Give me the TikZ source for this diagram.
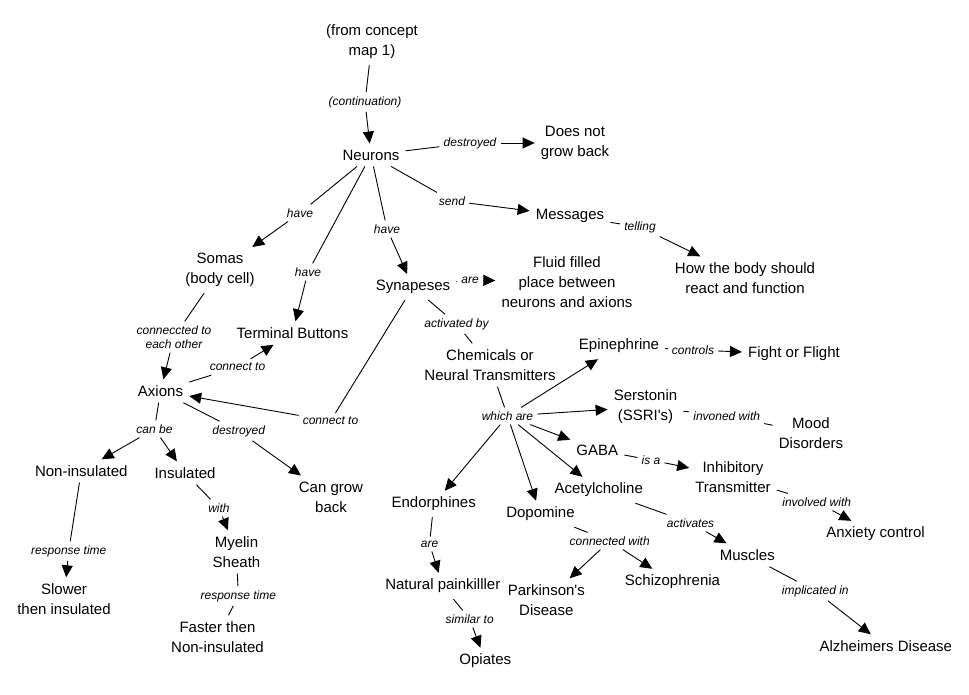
\documentclass[tikz,border=0pt]{standalone}
\usepackage{fontspec}
\setmainfont{Liberation Sans}
\usetikzlibrary{arrows.meta}
\tikzset{
  concept/.style={font=\fontsize{15}{20}\selectfont, align=center, inner sep=6pt},
  lbl/.style={font=\fontsize{12}{14}\selectfont\itshape, align=center, inner sep=4pt},
  ln/.style={line width=0.9pt},
  ar/.style={line width=0.9pt, -{Triangle[length=12pt,width=11pt]}},
}
\newcommand{\cmlink}[3]{\draw[ln] (#1) -- (#2); \draw[ar] (#2) -- (#3);}
\begin{document}
\begin{tikzpicture}[x=1pt,y=-1pt]
\useasboundingbox[fill=white] (0,0) rectangle (969,694);
% concepts
\node[concept] (c1) at (372,42) {(from concept\\map 1)};
\node[concept] (neur) at (371,155) {Neurons};
\node[concept] (dngb) at (575,143) {Does not\\grow back};
\node[concept] (somas) at (220,270) {Somas\\(body cell)};
\node[concept] (tb) at (292.5,333) {Terminal Buttons};
\node[concept] (syn) at (413,287) {Synapeses};
\node[concept] (msg) at (570,216) {Messages};
\node[concept] (how) at (745,278) {How the body should\\react and function};
\node[concept] (fluid) at (567,282) {Fluid filled\\place between\\neurons and axions};
\node[concept] (chem) at (490,365) {Chemicals or\\Neural Transmitters};
\node[concept] (axions) at (160.5,391) {Axions};
\node[concept] (nonins) at (81.3,471) {Non-insulated};
\node[concept] (ins) at (185,473) {Insulated};
\node[concept] (cgb) at (331,497) {Can grow\\back};
\node[concept] (myelin) at (236.5,552) {Myelin\\Sheath};
\node[concept] (slower) at (64,599) {Slower\\then insulated};
\node[concept] (faster) at (217.5,637) {Faster then\\Non-insulated};
\node[concept] (epi) at (619,346) {Epinephrine};
\node[concept] (fof) at (794,354) {Fight or Flight};
\node[concept] (ser) at (645.5,407) {Serstonin\\(SSRI\textquotesingle s)};
\node[concept] (mood) at (811,433) {Mood\\Disorders};
\node[concept] (gaba) at (597.3,450) {GABA};
\node[concept] (inhib) at (733,477) {Inhibitory\\Transmitter};
\node[concept] (anx) at (875.5,534) {Anxiety control};
\node[concept] (endo) at (433.7,504) {Endorphines};
\node[concept] (dopo) at (540.5,514) {Dopomine};
\node[concept] (acet) at (598.7,490) {Acetylcholine};
\node[concept] (musc) at (747.3,555) {Muscles};
\node[concept] (park) at (546.3,600) {Parkinson\textquotesingle s\\Disease};
\node[concept] (schiz) at (672.5,582) {Schizophrenia};
\node[concept] (nat) at (442.8,586) {Natural painkilller};
\node[concept] (opi) at (485.3,661) {Opiates};
\node[concept] (alz) at (885.8,646) {Alzheimers Disease};
% labels
\node[lbl] (l1) at (365,102) {(continuation)};
\node[lbl] (l2) at (470,143) {destroyed};
\node[lbl] (l3) at (300,213) {have};
\node[lbl] (l4) at (308,272) {have};
\node[lbl] (l5) at (387,229) {have};
\node[lbl] (l6) at (452,201) {send};
\node[lbl] (l7) at (640,227) {telling};
\node[lbl] (l8) at (470,280) {are};
\node[lbl] (l9) at (456.5,324) {activated by};
\node[lbl] (l10) at (174,337) {conneccted to\\each other};
\node[lbl] (l11) at (237.5,367) {connect to};
\node[lbl] (l12) at (330.5,421) {connect to};
\node[lbl] (l13) at (154.5,429) {can be};
\node[lbl] (l14) at (238.7,431) {destroyed};
\node[lbl] (l15) at (219,508) {with};
\node[lbl] (l16) at (68.7,551) {response time};
\node[lbl] (l17) at (238.3,596) {response time};
\node[lbl] (l18) at (693,350) {controls};
\node[lbl] (l19) at (507.5,416) {which are};
\node[lbl] (l20) at (726.7,416) {invoned with};
\node[lbl] (l21) at (651,460) {is a};
\node[lbl] (l22) at (816.7,502) {involved with};
\node[lbl] (l23) at (690.5,523) {activates};
\node[lbl] (l24) at (609.7,541) {connected with};
\node[lbl] (l25) at (429.5,544) {are};
\node[lbl] (l26) at (469.7,619) {similar to};
\node[lbl] (l27) at (815.3,591) {implicated in};
% links
\cmlink{c1}{l1}{neur}
\cmlink{neur}{l2}{dngb}
\cmlink{neur}{l3}{somas}
\cmlink{neur}{l4}{tb}
\cmlink{neur}{l5}{syn}
\cmlink{neur}{l6}{msg}
\cmlink{msg}{l7}{how}
\cmlink{syn}{l8}{fluid}
\draw[ln] (syn) -- (l9); \draw[ln] (l9) -- (chem);
\cmlink{syn}{l12}{axions}
\cmlink{somas}{l10}{axions}
\cmlink{axions}{l11}{tb}
\draw[ln] (axions) -- (l13);
\draw[ar] (l13) -- (nonins);
\draw[ar] (l13) -- (ins);
\cmlink{axions}{l14}{cgb}
\cmlink{ins}{l15}{myelin}
\cmlink{nonins}{l16}{slower}
\draw[ln] (myelin) -- (l17); \draw[ln] (l17) -- (faster);
\draw[ln] (chem) -- (l19);
\draw[ar] (l19) -- (epi);
\draw[ar] (l19) -- (ser);
\draw[ar] (l19) -- (gaba);
\draw[ar] (l19) -- (acet);
\draw[ar] (l19) -- (dopo);
\draw[ar] (l19) -- (endo);
\cmlink{epi}{l18}{fof}
\draw[ln] (ser) -- (l20); \draw[ln] (l20) -- (mood);
\cmlink{gaba}{l21}{inhib}
\cmlink{inhib}{l22}{anx}
\cmlink{acet}{l23}{musc}
\draw[ln] (dopo) -- (l24);
\draw[ar] (l24) -- (park);
\draw[ar] (l24) -- (schiz);
\cmlink{endo}{l25}{nat}
\cmlink{nat}{l26}{opi}
\cmlink{musc}{l27}{alz}
\end{tikzpicture}
\end{document}
